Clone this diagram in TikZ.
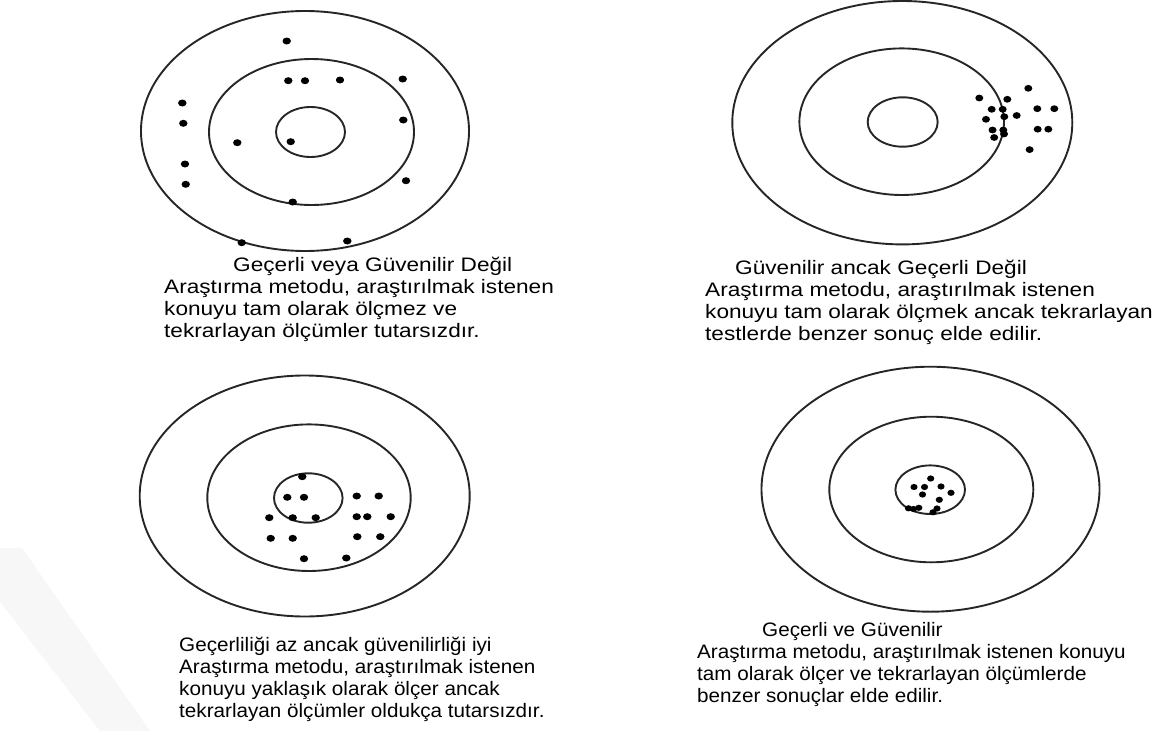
\documentclass[tikz,border=0pt]{standalone}
\usepackage{fontspec}
\setmainfont{Liberation Sans}
\newfontfamily\wideA[FakeStretch=1.16]{Liberation Sans}
\newfontfamily\wideB[FakeStretch=1.06]{Liberation Sans}

\begin{document}
\begin{tikzpicture}[
        x=1pt,y=-1pt,
        ring/.style={draw=black!85,line width=1.9pt},
        shot/.style={fill=black},
        capA/.style={anchor=base west,inner sep=0pt,font=\wideA\fontsize{19.5}{22}\selectfont},
        capB/.style={anchor=base west,inner sep=0pt,font=\wideB\fontsize{19.5}{22}\selectfont}
    ]
        \useasboundingbox (0,0) rectangle (1163,731);
        \fill[gray!6] (0,548) -- (22,548) -- (150,731) -- (100,731) -- (0,602) -- cycle;

        % top left: neither valid nor reliable
        \begin{scope}
            \coordinate (o1) at (305,131);
            \coordinate (m1) at (311.5,132);
            \coordinate (i1) at (310.5,132);
            \draw[ring] (o1) ellipse (164pt and 120pt);
            \draw[ring] (m1) ellipse (102.5pt and 73pt);
            \draw[ring] (i1) ellipse (34.5pt and 25pt);
            \foreach \p in {(286.7,41),(288.3,80.7),(305,80.7),(340,80),(402.7,79),
                (182.3,103),(183.3,123.3),(403.3,120),(237.3,142.7),(290.7,141.7),
                (185,164),(185.7,184.3),(406,180.7),(292.7,202),(241.7,242.7),(347.3,241)}
                \fill[shot] \p ellipse (4.2pt and 3.5pt);

            \node[capA] (t1a) at (233,271) {Geçerli veya Güvenilir Değil};
            \node[capA] (t1b) at (164,293) {Araştırma metodu, araştırılmak istenen};
            \node[capA] (t1c) at (164,315) {konuyu tam olarak ölçmez ve};
            \node[capA] (t1d) at (164,337) {tekrarlayan ölçümler tutarsızdır.};
        \end{scope}

        % top right: reliable but not valid
        \begin{scope}
            \coordinate (o2) at (902.3,122.7);
            \coordinate (m2) at (901.7,121.7);
            \coordinate (i2) at (902.7,122);
            \draw[ring] (o2) ellipse (170pt and 121.7pt);
            \draw[ring] (m2) ellipse (102.3pt and 73.3pt);
            \draw[ring] (i2) ellipse (35pt and 24.7pt);
            \foreach \p in {(1028.3,88.3),(979.3,98),(1007.3,99.3),(991.7,109.3),(1002.7,109.3),
                (1037.3,108.7),(1054.3,108.7),(986,119.3),(1004.3,116.7),(1016.7,115.5),
                (992.5,130),(1003.3,130),(1004,134),(1037.7,129.2),(1048.3,129.2),
                (994.2,137.5),(1029.6,149.6)}
                \fill[shot] \p ellipse (4pt and 3.4pt);

            \node[capA] (t2a) at (735,274) {Güvenilir ancak Geçerli Değil};
            \node[capA] (t2b) at (705,296) {Araştırma metodu, araştırılmak istenen};
            \node[capA] (t2c) at (705,318) {konuyu tam olarak ölçmek ancak tekrarlayan};
            \node[capA] (t2d) at (705,340) {testlerde benzer sonuç elde edilir.};
        \end{scope}

        % bottom left: low validity, good reliability
        \begin{scope}
            \coordinate (o3) at (304.7,496);
            \coordinate (m3) at (309,497.7);
            \coordinate (i3) at (308.3,498);
            \draw[ring] (o3) ellipse (165pt and 120.5pt);
            \draw[ring] (m3) ellipse (101.7pt and 73.3pt);
            \draw[ring] (i3) ellipse (34.3pt and 24.7pt);
            \foreach \p in {(302.3,476.7),(287.3,497.3),(304,497.3),(356.7,496),(378.7,496),
                (269.3,517.7),(292.7,517.7),(315.7,517.7),(356.7,516.7),(367.3,516.7),
                (390.7,516.7),(270.7,538.3),(292.7,538.3),(357.3,536.7),(380.3,536.7),
                (304,558.7),(346.3,558)}
                \fill[shot] \p ellipse (4.2pt and 3.5pt);

            \node[capB] (t3a) at (179,651) {Geçerliliği az ancak güvenilirliği iyi};
            \node[capB] (t3b) at (179,673) {Araştırma metodu, araştırılmak istenen};
            \node[capB] (t3c) at (179,695) {konuyu yaklaşık olarak ölçer ancak};
            \node[capB] (t3d) at (179,717) {tekrarlayan ölçümler oldukça tutarsızdır.};
        \end{scope}

        % bottom right: valid and reliable
        \begin{scope}
            \coordinate (o4) at (930.5,489.2);
            \coordinate (m4) at (931.3,489.5);
            \coordinate (i4) at (930.2,489.7);
            \draw[ring] (o4) ellipse (169pt and 122.5pt);
            \draw[ring] (m4) ellipse (102pt and 72.8pt);
            \draw[ring] (i4) ellipse (34.8pt and 24.3pt);
            \foreach \p in {(930.7,478.5),(914,487),(924.5,487),(941,486.5),(951,492.8),
                (922.5,494.5),(939.3,499.8),(908.5,508.3),(913.5,509),(918.8,507.8),
                (933,512.3),(937,508.5)}
                \fill[shot] \p ellipse (3.6pt and 3.1pt);

            \node[capB] (t4a) at (762,636) {Geçerli ve Güvenilir};
            \node[capB] (t4b) at (697,658) {Araştırma metodu, araştırılmak istenen konuyu};
            \node[capB] (t4c) at (697,680) {tam olarak ölçer ve tekrarlayan ölçümlerde};
            \node[capB] (t4d) at (697,702) {benzer sonuçlar elde edilir.};
        \end{scope}
    \end{tikzpicture}
\end{document}
